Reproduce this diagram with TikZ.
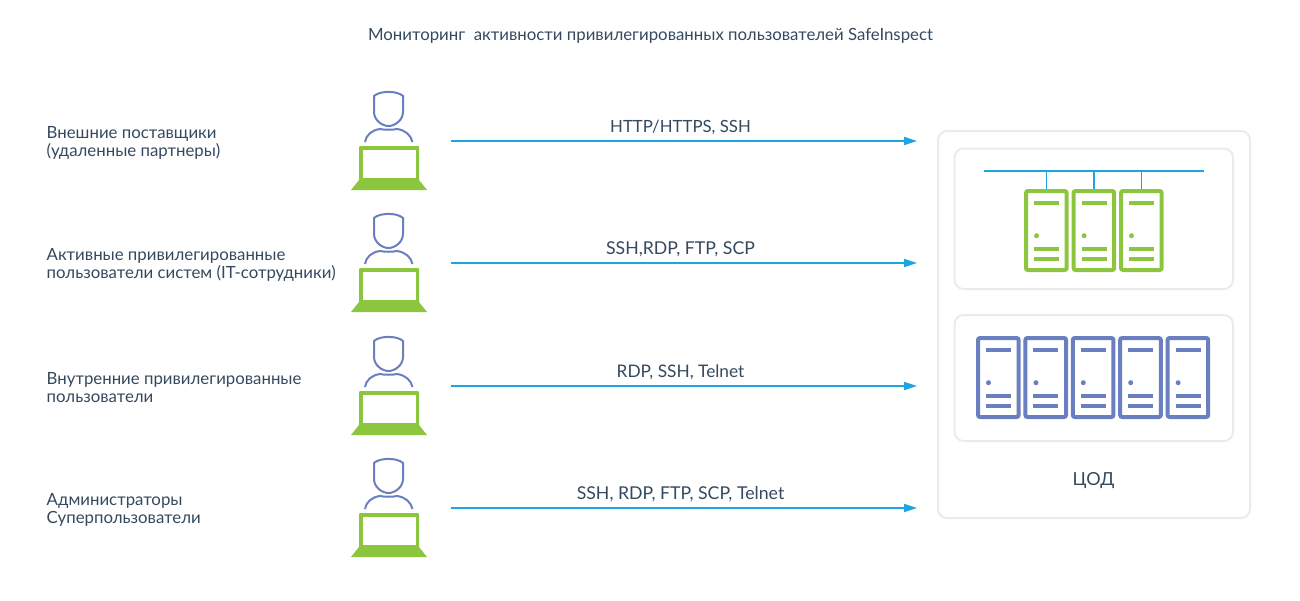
\documentclass[tikz,border=0pt]{standalone}
\usepackage{fontspec}
\setmainfont{Lato}
\usetikzlibrary{arrows.meta}
\definecolor{linkblue}{HTML}{1CA6DF}
\definecolor{leafgreen}{HTML}{8CC63F}
\definecolor{slateblue}{HTML}{6A7FBF}
\definecolor{framegray}{HTML}{EBEBEB}
\definecolor{inkslate}{HTML}{34495E}
\tikzset{
  label/.style={font=\fontsize{16.8}{18}\selectfont, text=inkslate, inner sep=0pt},
  frame/.style={draw=framegray, line width=2pt, rounded corners=9pt},
  link/.style={linkblue, line width=1.8pt, -{Triangle[length=13pt,width=8pt]}},
  bus/.style={linkblue, line width=1.8pt}
}
% one operator at a desk
\newcommand{\person}[1]{
  \begin{scope}[shift={(0,#1)}]
    \draw [slateblue, line width=2pt, fill=white] (374,96) .. controls (380,90.5) and (397,90.5) .. (403,96)
      -- (403,112) .. controls (403,120) and (395,126) .. (388.5,126)
      .. controls (382,126) and (374,120) .. (374,112) -- cycle;
    \draw [slateblue, line width=2pt] (365,142) .. controls (366,135) and (372,130) .. (380,129)
      .. controls (384,130) and (393,130) .. (397,129)
      .. controls (405,130) and (411,135) .. (412.5,142);
    \fill [leafgreen, rounded corners=1pt] (359,182) -- (359,146) -- (419,146) -- (419,182) -- cycle;
    \fill [white] (363,150) rectangle (416,178);
    \fill [leafgreen] (351,190) -- (359,180) -- (419,180) -- (427,190) -- cycle;
  \end{scope}
}
% one rack, #3 = colour, #4 = name of its top point
\newcommand{\rack}[4]{
  \begin{scope}[shift={(#1,#2)}]
    \draw [#3, line width=4pt, rounded corners=2pt] (2,81) -- (2,2) -- (42.6,2) -- (42.6,81) -- cycle;
    \coordinate (#4) at (22.5,0);
    \foreach \y in {13.7,59.7,69.7} {
      \fill [#3] (10,\y-2.2) rectangle (35,\y+2.2);
    }
    \fill [#3] (12.5,46.7) circle (2.5);
  \end{scope}
}

\begin{document}
\begin{tikzpicture}[x=1pt,y=-1pt]
  \useasboundingbox (0,0) rectangle (1300,600);

  \node [label, anchor=base] (title) at (650.5,40) {Мониторинг\ \ активности привилегированных пользователей SafeInspect};

  \foreach \y/\dy/\psize/\proto/\who [count=\i] in {
    141/0/16.8/{HTTP/HTTPS, SSH}/{Внешние поставщики\\(удаленные партнеры)},
    263/122/17.7/{SSH,RDP, FTP, SCP}/{Активные привилегированные\\пользователи систем (IT-сотрудники)},
    386/245/17.3/{RDP, SSH, Telnet}/{Внутренние привилегированные\\пользователи},
    508/367/17.7/{SSH, RDP, FTP, SCP, Telnet}/{Администраторы\\Суперпользователи}} {
    \person{\dy}
    \node [label, anchor=west, align=left] (who\i) at (46.5,\y+2) {\who};
    \coordinate (from\i) at (451,\y);
    \coordinate (to\i) at (917,\y);
    \draw [link] (from\i) -- (to\i);
    \node [label, font=\fontsize{\psize}{18}\selectfont, anchor=base] (proto\i) at (680.5,\y-9) {\proto};
  }

  \draw [frame] (938,131) rectangle (1250,518);
  \draw [frame] (954.5,148.5) rectangle (1233,289);
  \draw [frame] (954.5,315) rectangle (1233,441);

  \foreach \x [count=\i] in {1024,1071.6,1119} {
    \rack{\x}{189}{leafgreen}{green\i}
  }
  \coordinate (busleft) at (984,171);
  \coordinate (busright) at (1203.5,171);
  \draw [bus] (busleft) -- (busright);
  \foreach \i in {1,2,3} {
    \draw [bus] (green\i |- busleft) -- (green\i);
  }

  \foreach \i in {0,...,4} {
    \rack{976+47.4*\i}{336}{slateblue}{blue\i}
  }

  \node [label, font=\fontsize{18}{18}\selectfont] (dc) at (1093.5,481) {ЦОД};
\end{tikzpicture}
\end{document}
